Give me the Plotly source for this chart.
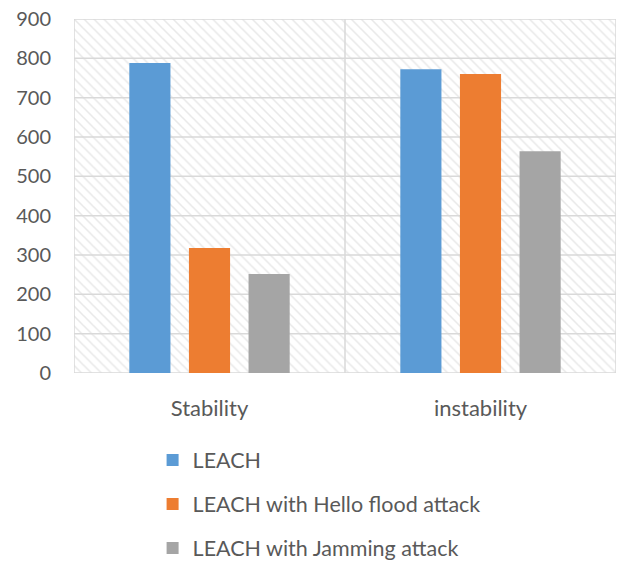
import plotly.graph_objects as go

# Chart data
categories = ["Stability", "instability"]
series_names = ["LEACH", "LEACH with Hello flood attack", "LEACH with Jamming attack"]
leach = [788, 772]
leach_hello = [318, 760]
leach_jamming = [252, 564]
y_ticks = [0, 100, 200, 300, 400, 500, 600, 700, 800, 900]

colors = ["#5B9BD5", "#ED7D31", "#A5A5A5"]
grid_color = "#D9D9D9"
text_color = "#595959"
font_family = "Lato, 'Open Sans', sans-serif"
y_max = y_ticks[-1]

fig = go.Figure()

# Hatched plot-area background, drawn as a full-width bar on a hidden numeric axis
fig.add_trace(go.Bar(
    x=[0.5], y=[y_max], width=[1], xaxis="x", yaxis="y",
    marker=dict(color="white", line=dict(width=0),
                pattern=dict(shape="\\", fgcolor="#D2D2D2", bgcolor="white",
                             size=7, solidity=0.22)),
    showlegend=False, hoverinfo="skip",
))

# Gridlines, category divider and plot border (kept beneath the data bars)
gx, gy = [], []
for t in y_ticks:
    gx += [0, 1, None]
    gy += [t, t, None]
for xv in (0, 0.5, 1):
    gx += [xv, xv, None]
    gy += [0, y_max, None]
fig.add_trace(go.Scatter(
    x=gx, y=gy, mode="lines", xaxis="x", yaxis="y",
    line=dict(color=grid_color, width=1.5),
    showlegend=False, hoverinfo="skip",
))

# Data bars on the category axis
for name, vals, col in zip(series_names, [leach, leach_hello, leach_jamming], colors):
    fig.add_trace(go.Bar(
        x=categories, y=vals, name=name, xaxis="x2", yaxis="y",
        marker=dict(color=col, line=dict(width=0)),
        legendgroup=name,
    ))

fig.update_layout(
    width=622, height=562,
    margin=dict(l=74, r=6, t=19, b=189, autoexpand=False),
    paper_bgcolor="white", plot_bgcolor="white",
    barmode="group", bargap=0.34, bargroupgap=0.31,
    font=dict(family=font_family, size=20, color=text_color),
    xaxis=dict(range=[0, 1], visible=False, fixedrange=True),
    xaxis2=dict(
        type="category", overlaying="x", side="bottom", anchor="y",
        showgrid=False, showline=False, zeroline=False,
        ticks="outside", ticklen=16, tickcolor="rgba(0,0,0,0)",
        tickfont=dict(family=font_family, size=22, color=text_color),
    ),
    yaxis=dict(
        range=[0, y_max], tickvals=y_ticks, showgrid=False, zeroline=False,
        showline=False, ticks="outside", ticklen=18, tickcolor="rgba(0,0,0,0)",
        tickfont=dict(family=font_family, size=20, color=text_color),
    ),
    legend=dict(
        orientation="v", x=0.145, xanchor="left", y=-0.188, yanchor="top",
        font=dict(family=font_family, size=21.5, color=text_color),
        traceorder="grouped", tracegroupgap=13, bgcolor="rgba(0,0,0,0)",
    ),
)

fig.write_html("out.html")
